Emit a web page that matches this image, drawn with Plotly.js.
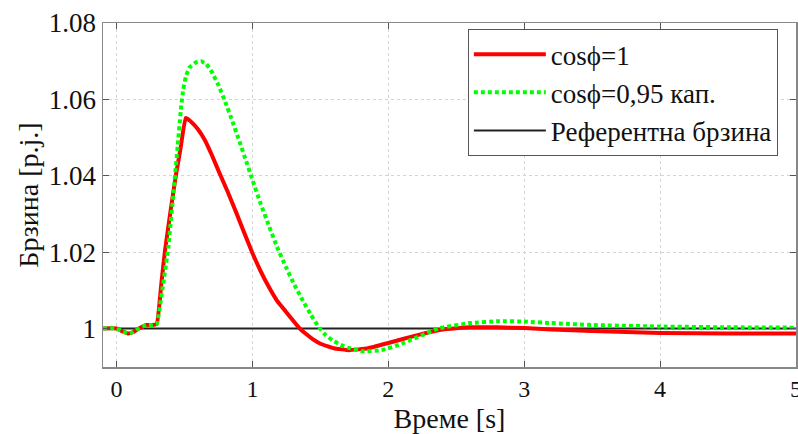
<!DOCTYPE html>
<html>
<head>
<meta charset="utf-8">
<script src="https://cdn.plot.ly/plotly-3.0.1.min.js"></script>
<style>
html,body{margin:0;padding:0;background:#fff;}
#chart{width:798px;height:434px;}
</style>
</head>
<body>
<div id="chart"></div>
<script>
// Time axis (s) and speed values (p.j.)
const tRed = [-0.1,0.0,0.04,0.083,0.12,0.16,0.218,0.26,0.296,0.33,0.355,0.40,0.436,0.47,0.508,0.55,0.60,0.65,0.70,0.757,0.82,0.88,0.94,1.00,1.06,1.123,1.18,1.246,1.30,1.345,1.40,1.443,1.50,1.60,1.71,1.85,2.00,2.20,2.40,2.60,2.80,3.00,3.20,3.50,4.00,4.50,5.00];
const vRed = [1.0,1.0,0.9993,0.9987,0.9990,0.9999,1.0009,1.0009,1.0012,1.0120,1.0200,1.0315,1.0400,1.0470,1.0551,1.0541,1.0521,1.0493,1.0455,1.0407,1.0356,1.0304,1.0250,1.0197,1.0150,1.0107,1.0073,1.0044,1.0020,1.0001,0.9984,0.9972,0.9960,0.9948,0.9943,0.9948,0.9962,0.9981,0.9997,1.0003,1.0003,1.0001,0.9997,0.9993,0.9988,0.9987,0.9987];

const tGreen = [-0.1,0.0,0.04,0.083,0.12,0.16,0.218,0.26,0.296,0.34,0.38,0.42,0.45,0.475,0.49,0.51,0.535,0.585,0.621,0.66,0.70,0.75,0.80,0.85,0.90,0.95,1.00,1.06,1.123,1.18,1.245,1.30,1.369,1.43,1.49,1.54,1.588,1.65,1.70,1.81,1.95,2.10,2.37,2.60,2.82,3.00,3.20,3.50,4.00,4.50,5.00];
const vGreen = [1.0,1.0,0.9993,0.9987,0.9990,0.9999,1.0009,1.0009,1.0012,1.0110,1.0210,1.0360,1.0480,1.0580,1.0625,1.0660,1.0683,1.0697,1.0700,1.0693,1.0672,1.0637,1.0593,1.0545,1.0494,1.0442,1.0389,1.0327,1.0267,1.0214,1.0162,1.0120,1.0074,1.0036,1.0002,0.9982,0.9969,0.9957,0.9950,0.9940,0.9943,0.9960,1.0000,1.0014,1.0019,1.0018,1.0014,1.0009,1.0005,1.0003,1.0002];

const tRef = [-0.1, 5.0];
const vRef = [1.0, 1.0];

const seriesNames = ['cosϕ=1', 'cosϕ=0,95 кап.', 'Референтна брзина'];
const xTicks = [0,1,2,3,4,5];
const yTicks = [1.00,1.02,1.04,1.06,1.08];
const yTickText = ['1','1.02','1.04','1.06','1.08'];

const traces = [
  {x: tRef, y: vRef, name: seriesNames[2], mode: 'lines', legendrank: 3,
   line: {color: '#222', width: 2}},
  {x: tRed, y: vRed, name: seriesNames[0], mode: 'lines', legendrank: 1,
   line: {color: '#ff0000', width: 4, shape: 'spline', smoothing: 0.3}},
  {x: tGreen, y: vGreen, name: seriesNames[1], mode: 'lines', legendrank: 2,
   line: {color: '#00ff00', width: 4, dash: '4px,3px', shape: 'spline', smoothing: 0.3}}
];

const layout = {
  width: 798, height: 434,
  margin: {l: 103, r: 2, t: 23, b: 67},
  paper_bgcolor: '#fff', plot_bgcolor: '#fff',
  font: {family: '"Liberation Serif", serif', size: 26, color: '#111'},
  showlegend: true,
  legend: {
    x: 0.5265, y: 0.982, xanchor: 'left', yanchor: 'top',
    bgcolor: '#fff', bordercolor: '#555', borderwidth: 1,
    font: {size: 27, color: '#111'},
    itemwidth: 72, tracegroupgap: 0
  },
  xaxis: {
    range: [-0.1, 5.0], tickvals: xTicks, ticks: 'inside', ticklen: 6,
    tickcolor: '#555', showline: true, linecolor: '#888', linewidth: 1.5, mirror: 'ticks',
    showgrid: true, gridcolor: '#d4d4d4', griddash: 'dot', gridwidth: 1,
    zeroline: false, ticklabeloverflow: 'allow',
    tickfont: {size: 24, color: '#111'},
    title: {text: 'Време [s]', font: {size: 28, color: '#111'}, standoff: 14}
  },
  yaxis: {
    range: [0.9899, 1.08], tickvals: yTicks, ticktext: yTickText, ticks: 'inside', ticklen: 6,
    tickcolor: '#555', showline: true, linecolor: '#888', linewidth: 1.5, mirror: 'ticks',
    showgrid: true, gridcolor: '#d4d4d4', griddash: 'dot', gridwidth: 1,
    zeroline: false, ticklabeloverflow: 'allow',
    tickfont: {size: 27, color: '#111'},
    title: {text: 'Брзина [p.j.]', font: {size: 28, color: '#111'}, standoff: 2}
  }
};

Plotly.newPlot('chart', traces, layout, {displayModeBar: false, staticPlot: true});
</script>
</body>
</html>
